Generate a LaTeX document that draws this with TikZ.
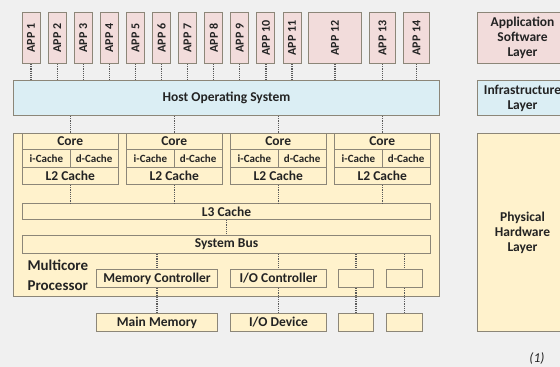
\documentclass[tikz,border=0pt]{standalone}
\usepackage{fontspec}
\setmainfont{Carlito}
\usepackage{graphicx}
\usepackage{tikz}
\definecolor{bggray}{RGB}{240,240,240}
\definecolor{apppink}{RGB}{242,220,219}
\definecolor{osblue}{RGB}{219,238,244}
\definecolor{hwyellow}{RGB}{255,242,204}
\definecolor{boxline}{RGB}{140,134,120}
\definecolor{inkgray}{RGB}{35,35,35}
\tikzset{
  box/.style={draw=boxline, line width=1pt, inner sep=0pt, anchor=north west,
    font=\fontsize{13.5}{15}\selectfont\bfseries, text=inkgray, align=center},
  appbox/.style={box, fill=apppink, font=\fontsize{12}{14}\selectfont\bfseries},
  osbox/.style={box, fill=osblue},
  hwbox/.style={box, fill=hwyellow},
  link/.style={densely dotted, line width=1.2pt, draw=black!65},
}

\begin{document}
\begin{tikzpicture}[x=1pt,y=-1pt]
  \useasboundingbox[fill=bggray] (0,0) rectangle (560,367);
  % application layer
  \foreach \i in {1,...,11}
    \node[appbox, minimum width=18, minimum height=51] (app\i) at ({21.5+26.1*(\i-1)},12) {\rotatebox{90}{APP \i}};
  \node[appbox, minimum width=53, minimum height=51] (app12) at (308,12) {\rotatebox{90}{APP 12}};
  \node[appbox, minimum width=26, minimum height=51] (app13) at (369,12) {\rotatebox{90}{APP 13}};
  \node[appbox, minimum width=26, minimum height=51] (app14) at (403,12) {\rotatebox{90}{APP 14}};
  \node[osbox, minimum width=426, minimum height=35] (os) at (13,80) {Host Operating System};
  % hardware
  \node[hwbox, minimum width=426, minimum height=163] (mcp) at (13,133) {};
  \foreach \k in {1,...,4} {
    \node[hwbox, minimum width=95.5, minimum height=16] (core\k) at ({22+104*(\k-1)},133) {Core};
    \node[hwbox, minimum width=47.75, minimum height=18, font=\fontsize{11}{12}\selectfont\bfseries] (icache\k) at ({22+104*(\k-1)},149) {i-Cache};
    \node[hwbox, minimum width=47.75, minimum height=18, font=\fontsize{11}{12}\selectfont\bfseries] (dcache\k) at ({69.75+104*(\k-1)},149) {d-Cache};
    \node[hwbox, minimum width=95.5, minimum height=17] (ltwo\k) at ({22+104*(\k-1)},167) {L2 Cache};
  }
  \node[hwbox, minimum width=408, minimum height=16] (lthree) at (22,203) {L3 Cache};
  \node[hwbox, minimum width=408, minimum height=18] (sysbus) at (22,235) {System Bus};
  \node[anchor=west, align=left, font=\fontsize{15}{20}\selectfont\bfseries, text=inkgray] (mcplabel) at (24,275) {Multicore\\Processor};
  \node[hwbox, minimum width=121, minimum height=18] (memctrl) at (96,269) {Memory Controller};
  \node[hwbox, minimum width=96, minimum height=18] (ioctrl) at (230,269) {I/O Controller};
  \node[hwbox, minimum width=35, minimum height=18] (ctrla) at (338,269) {};
  \node[hwbox, minimum width=36, minimum height=18] (ctrlb) at (386,269) {};
  \node[hwbox, minimum width=121, minimum height=18] (mainmem) at (96,313) {Main Memory};
  \node[hwbox, minimum width=96, minimum height=18] (iodev) at (230,313) {I/O Device};
  \node[hwbox, minimum width=35, minimum height=18] (deva) at (338,313) {};
  \node[hwbox, minimum width=36, minimum height=18] (devb) at (386,313) {};
  % layer legend
  \node[appbox, minimum width=90, minimum height=51, font=\fontsize{13.5}{15}\selectfont\bfseries] (applayer) at (477,12) {Application\\Software\\Layer};
  \node[osbox, minimum width=90, minimum height=35] (infralayer) at (477,80) {Infrastructure\\Layer};
  \node[hwbox, minimum width=90, minimum height=198] (hwlayer) at (477,133) {Physical\\Hardware\\Layer};
  \node[font=\fontsize{13.5}{15}\selectfont\itshape, text=inkgray] (fignum) at (537,358) {(1)};
  % dotted links
  \foreach \i in {1,...,14}
    \draw[link] (app\i.south) -- (app\i.south |- os.north);
  \foreach \k in {1,...,4} {
    \draw[link] (os.south -| core\k.north) -- (core\k.north);
    \draw[link] (ltwo\k.south) -- (ltwo\k.south |- lthree.north);
  }
  \draw[link] (lthree.south) -- (sysbus.north);
  \foreach \c/\d in {memctrl/mainmem, ioctrl/iodev, ctrla/deva, ctrlb/devb} {
    \draw[link] (sysbus.south -| \c.north) -- (\c.north);
    \draw[link] (\c.south) -- (\d.north);
  }
\end{tikzpicture}
\end{document}
